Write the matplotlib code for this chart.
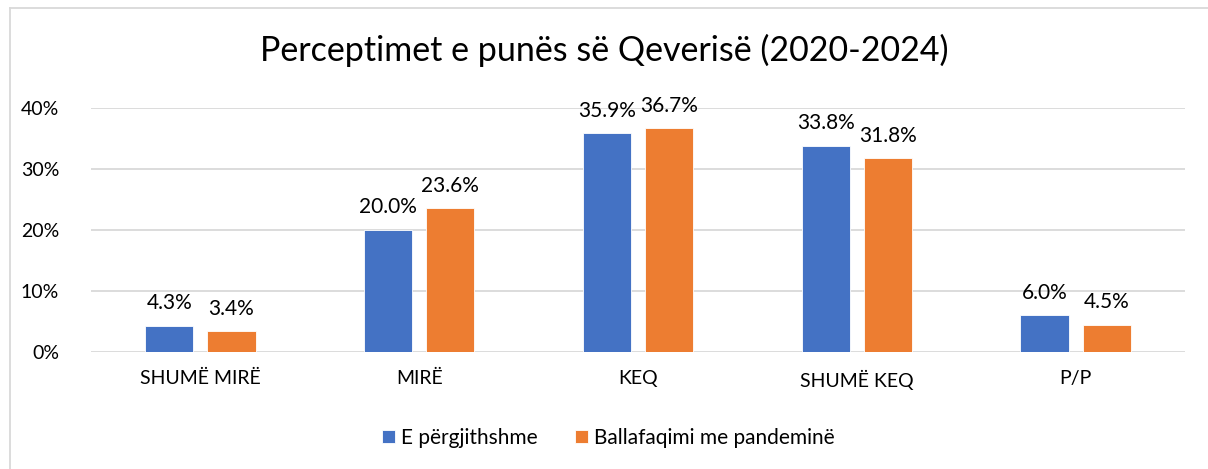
import numpy as np
import matplotlib.pyplot as plt
from matplotlib.ticker import PercentFormatter
from matplotlib.lines import Line2D

plt.rcParams['font.family'] = ['Lato', 'DejaVu Sans']

# Kategoritë dhe vlerat (%)
kategori = ['SHUMË MIRË', 'MIRË', 'KEQ', 'SHUMË KEQ', 'P/P']
e_pergjithshme = [4.3, 20.0, 35.9, 33.8, 6.0]
pandemia = [3.4, 23.6, 36.7, 31.8, 4.5]
seri = ['E përgjithshme', 'Ballafaqimi me pandeminë']
ngjyra = ['#4472C4', '#ED7D31']

fig = plt.figure(figsize=(12.08, 4.69), dpi=100)
ax = fig.add_axes([0.0753, 0.2495, 0.9057, 0.5202])

x = np.arange(len(kategori))
gjeresi = 0.22
zhvendosje = 0.142

for i, (vlerat, emri) in enumerate(zip([e_pergjithshme, pandemia], seri)):
    poz = x + (-zhvendosje if i == 0 else zhvendosje)
    shiritat = ax.bar(poz, vlerat, width=gjeresi, color=ngjyra[i], label=emri,
                      edgecolor='white', linewidth=0.6, zorder=3)
    for s, v in zip(shiritat, vlerat):
        ax.annotate(f'{v:.1f}%', (s.get_x() + s.get_width() / 2, v),
                    xytext=(0, 9), textcoords='offset points',
                    ha='center', va='bottom', fontsize=15, color='#000000')

ax.set_xlim(-0.5, len(kategori) - 0.5)
ax.set_ylim(0, 40)
ax.set_yticks([0, 10, 20, 30, 40])
ax.yaxis.set_major_formatter(PercentFormatter(decimals=0))
ax.set_xticks(x)
ax.set_xticklabels(kategori)
ax.tick_params(axis='both', length=0, labelsize=14, colors='#000000')
ax.tick_params(axis='x', pad=13)
ax.tick_params(axis='y', pad=23)
ax.grid(axis='y', color='#D9D9D9', linewidth=1.3, zorder=0)
for k in ax.spines.values():
    k.set_visible(False)

fig.text(0.5, 0.893, 'Perceptimet e punës së Qeverisë (2020-2024)',
         ha='center', va='center', fontsize=24.5, color='#000000')

ax.legend(loc='center', bbox_to_anchor=(0.473, -0.353), ncol=2, frameon=False,
          fontsize=15, handlelength=0.6, handleheight=0.6, handletextpad=0.3,
          columnspacing=1.8)

# kornizë e hollë gri
fig.add_artist(Line2D([0.0083, 1.0], [0.983, 0.983], transform=fig.transFigure,
                      color='#D9D9D9', linewidth=1.3))
fig.add_artist(Line2D([0.0083, 0.0083], [0.0, 0.983], transform=fig.transFigure,
                      color='#D9D9D9', linewidth=1.3))

fig.savefig('out.png', dpi=100)
